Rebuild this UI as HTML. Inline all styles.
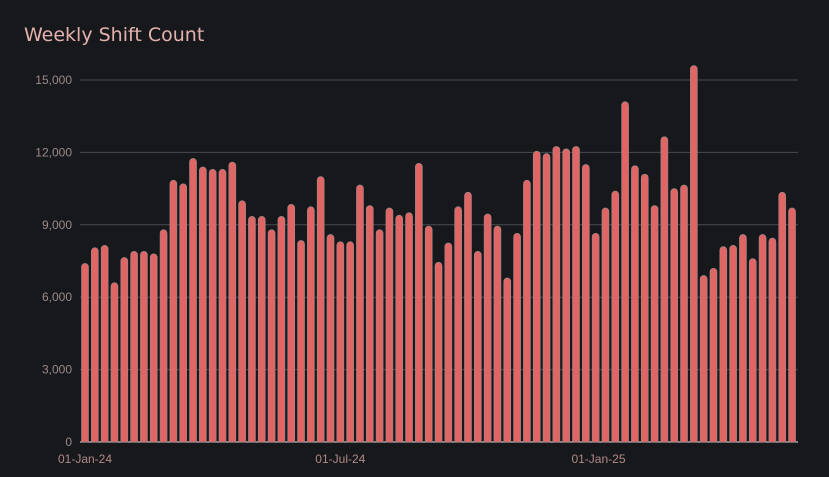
<!DOCTYPE html>
<html><head><meta charset="utf-8"><style>
body{margin:0;background:#17181c;}
svg{display:block;font-family:"Liberation Sans",sans-serif;}
</style></head><body>
<svg id="chart" width="829" height="477">
<rect width="829" height="477" fill="#17181c"/>
<text x="24" y="41" font-size="19" font-family="DejaVu Sans, sans-serif" fill="#e3b2ac">Weekly Shift Count</text>
<g id="grid"></g><g id="bars"></g><g id="xaxis"></g>
</svg>
<script>
const values=[7400,8050,8150,6600,7650,7900,7900,7800,8800,10850,10700,11750,11400,11300,11300,11600,10000,9350,9350,8800,9350,9850,8350,9750,11000,8600,8300,8300,10650,9800,8800,9700,9400,9500,11550,8950,7450,8250,9750,10350,7900,9450,8950,6800,8650,10850,12050,11950,12250,12150,12250,11500,8650,9700,10400,14100,11450,11100,9800,12650,10500,10650,15600,6900,7200,8100,8150,8600,7600,8600,8450,10350,9700];
const yTicks=[0,3000,6000,9000,12000,15000];
const xLabels=["01-Jan-24","01-Jul-24","01-Jan-25"];
const xLabelWeeks=[0,26,52.29];
const NS="http://www.w3.org/2000/svg";
const y=v=>442-v*(362/15000);
const x=i=>85+i*9.82;
const grid=document.getElementById('grid'),bars=document.getElementById('bars'),xa=document.getElementById('xaxis');
yTicks.forEach(t=>{
  const l=document.createElementNS(NS,'line');
  l.setAttribute('x1',80);l.setAttribute('x2',798);l.setAttribute('y1',y(t));l.setAttribute('y2',y(t));
  l.setAttribute('stroke',t===0?'#e8e8e8':'#4a4a4e');l.setAttribute('stroke-width',1);
  
  
  grid.appendChild(l);
  const tx=document.createElementNS(NS,'text');
  tx.setAttribute('x',72);tx.setAttribute('y',y(t)+4);tx.setAttribute('text-anchor','end');
  tx.setAttribute('font-size',12);tx.setAttribute('fill','#9a8a88');
  tx.textContent=t.toLocaleString('en-US');
  
  
  grid.appendChild(tx);
});
values.forEach((v,i)=>{
  const r=document.createElementNS(NS,'path');
  const cx=x(i),w=7,top=y(v),b=442;
  r.setAttribute('d',`M${cx-w/2},${b} V${top+3.5} A3.5,3.5 0 0 1 ${cx+w/2},${top+3.5} V${b} Z`);
  r.setAttribute('fill','#e06666');r.setAttribute('stroke','#9a8a8a');r.setAttribute('stroke-width',0.6);
  
  
  bars.appendChild(r);
});
xLabels.forEach((s,i)=>{
  const tx=document.createElementNS(NS,'text');
  tx.setAttribute('x',x(xLabelWeeks[i]));tx.setAttribute('y',463);tx.setAttribute('text-anchor','middle');
  tx.setAttribute('font-size',12);tx.setAttribute('fill','#b08a86');
  tx.textContent=s;
  
  
  xa.appendChild(tx);
});
</script>
</body></html>
